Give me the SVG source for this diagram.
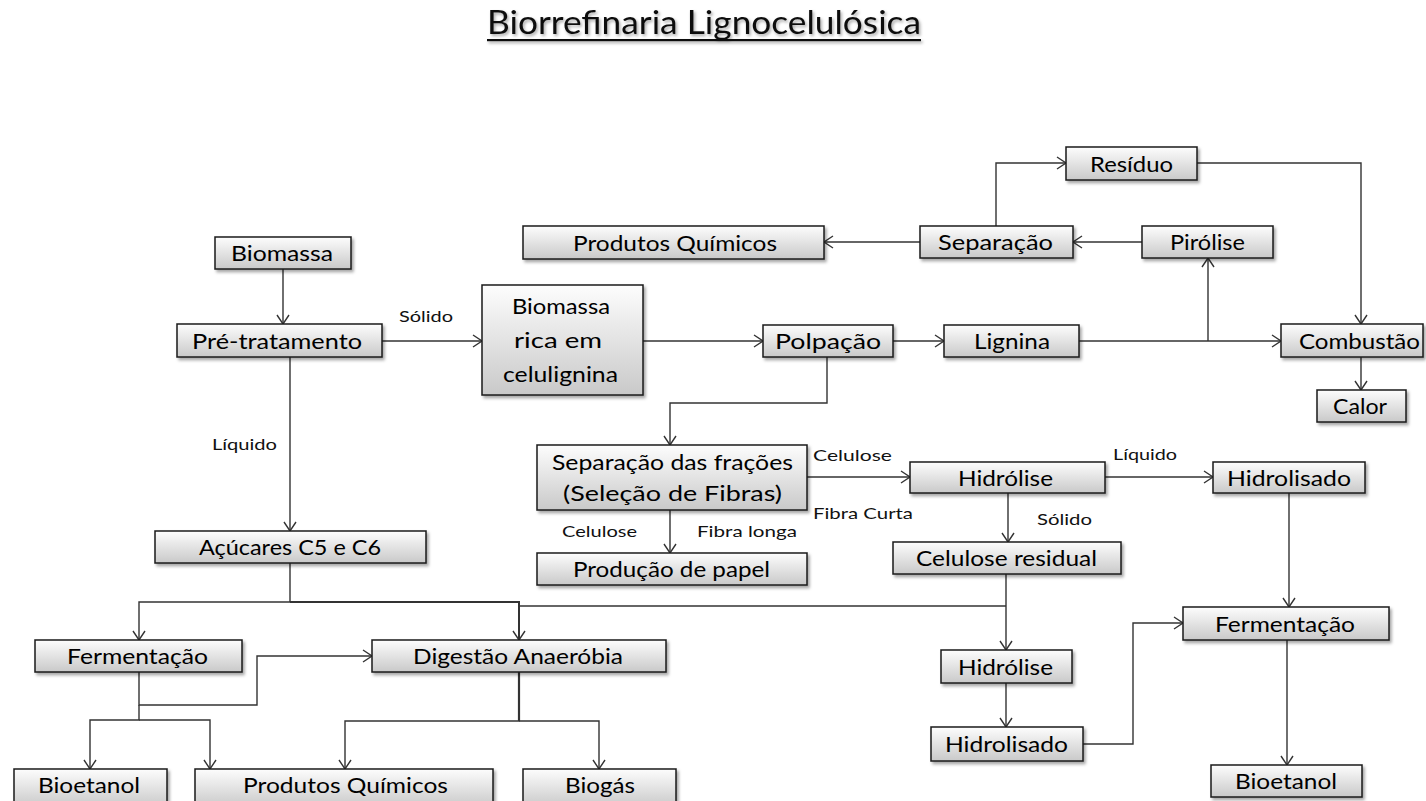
<svg xmlns="http://www.w3.org/2000/svg" width="1426" height="801" viewBox="0 0 1426 801">
<style>
.box{fill:url(#g);stroke:#1a1a1a;stroke-width:1.5;filter:url(#sh)}
.t{font-family:Lato,"Liberation Sans",sans-serif;font-size:22px;fill:#000;text-anchor:middle}
.l{font-family:Lato,"Liberation Sans",sans-serif;font-size:16px;fill:#111}
.c{fill:none;stroke:#333;stroke-width:1.4;marker-end:url(#a)}
.n{fill:none;stroke:#333;stroke-width:1.4}
.title{font-family:Lato,"Liberation Sans",sans-serif;font-size:32px;fill:#111;text-anchor:middle}
</style>
<defs>
<linearGradient id="g" x1="0" y1="0" x2="0" y2="1">
<stop offset="0" stop-color="#fdfdfd"/>
<stop offset="1" stop-color="#c9c9c9"/>
</linearGradient>
<filter id="sh" x="-10%" y="-30%" width="120%" height="170%">
<feDropShadow dx="2" dy="2.5" stdDeviation="1.5" flood-color="#000" flood-opacity="0.35"/>
</filter>
<filter id="tsh" x="-5%" y="-50%" width="110%" height="200%">
<feDropShadow dx="1.5" dy="2" stdDeviation="1.5" flood-color="#000" flood-opacity="0.35"/>
</filter>
<marker id="a" markerWidth="12" markerHeight="14" refX="10" refY="7" orient="auto" markerUnits="userSpaceOnUse">
<path d="M1,1 L10,7 L1,13" fill="none" stroke="#333" stroke-width="1.4"/>
</marker>
</defs>

<g id="title" filter="url(#tsh)">
<text class="title" x="704" y="34" textLength="434" lengthAdjust="spacingAndGlyphs">Biorrefinaria Lignocelulósica</text>
<rect x="487" y="39" width="434" height="2.2" fill="#111"/>
</g>

<g id="connectors">
<path class="c" d="M283,269 V324"/>
<path class="c" d="M382,341 H482"/>
<path class="c" d="M643,341 H763"/>
<path class="c" d="M893,341 H944"/>
<path class="c" d="M1079,341 H1281"/>
<path class="c" d="M1208,341 V258"/>
<path class="c" d="M1142,242 H1073"/>
<path class="c" d="M920,242 H824"/>
<path class="c" d="M996,226 V163 H1066"/>
<path class="c" d="M1197,163 H1361 V324"/>
<path class="c" d="M1361,357 V390"/>
<path class="c" d="M827,357 V403 H670 V445"/>
<path class="c" d="M807,477 H910"/>
<path class="c" d="M670,510 V553"/>
<path class="c" d="M1105,477 H1213"/>
<path class="c" d="M1008,493 V542"/>
<path class="c" d="M1289,493 V607"/>
<path class="c" d="M1006,574 V650"/>
<path class="n" d="M1006,606 H519"/>
<path class="c" d="M1006,683 V727"/>
<path class="c" d="M1083,744 H1133 V623 H1183"/>
<path class="c" d="M1287,640 V765"/>
<path class="c" d="M290,357 V531"/>
<path class="n" d="M290,563 V602"/>
<path class="c" d="M290,602 H139 V640"/>
<path class="c" d="M290,602 H519 V640" style="stroke-width:2"/>
<path class="c" d="M139,672 V705 H257 V656 H372"/>
<path class="c" d="M139,705 V720 H90 V769"/>
<path class="c" d="M139,720 H210 V769"/>
<path class="c" d="M519,672 V721 H345 V769"/>
<path class="n" d="M519,672 V721" style="stroke-width:2.2"/>
<path class="c" d="M519,721 H599 V769"/>
<text class="l" x="399" y="322" textLength="54" lengthAdjust="spacingAndGlyphs">Sólido</text>
<text class="l" x="212" y="450" textLength="65" lengthAdjust="spacingAndGlyphs">Líquido</text>
<text class="l" x="813" y="461" textLength="79" lengthAdjust="spacingAndGlyphs">Celulose</text>
<text class="l" x="813" y="519" textLength="100" lengthAdjust="spacingAndGlyphs">Fibra Curta</text>
<text class="l" x="562" y="537" textLength="75" lengthAdjust="spacingAndGlyphs">Celulose</text>
<text class="l" x="697" y="537" textLength="100" lengthAdjust="spacingAndGlyphs">Fibra longa</text>
<text class="l" x="1113" y="460" textLength="64" lengthAdjust="spacingAndGlyphs">Líquido</text>
<text class="l" x="1037" y="525" textLength="55" lengthAdjust="spacingAndGlyphs">Sólido</text>
</g>

<g id="n-biomassa"><rect class="box" x="215" y="237" width="136" height="32"/><text class="t" x="282" y="261" textLength="102" lengthAdjust="spacingAndGlyphs">Biomassa</text></g>
<g id="n-pretratamento"><rect class="box" x="177" y="324" width="205" height="33"/><text class="t" x="277" y="349" textLength="170" lengthAdjust="spacingAndGlyphs">Pré-tratamento</text></g>
<g id="n-biomassa-rica"><rect class="box" x="482" y="285" width="161" height="110"/><text class="t" x="561" y="314" textLength="98" lengthAdjust="spacingAndGlyphs">Biomassa</text><text class="t" x="558" y="348" textLength="88" lengthAdjust="spacingAndGlyphs">rica em</text><text class="t" x="560.5" y="382" textLength="115" lengthAdjust="spacingAndGlyphs">celulignina</text></g>
<g id="n-polpacao"><rect class="box" x="763" y="325" width="130" height="32"/><text class="t" x="828" y="349" textLength="106" lengthAdjust="spacingAndGlyphs">Polpação</text></g>
<g id="n-lignina"><rect class="box" x="944" y="325" width="135" height="32"/><text class="t" x="1012" y="349" textLength="76" lengthAdjust="spacingAndGlyphs">Lignina</text></g>
<g id="n-combustao"><rect class="box" x="1281" y="324" width="142" height="33"/><text class="t" x="1359.5" y="349" textLength="121" lengthAdjust="spacingAndGlyphs">Combustão</text></g>
<g id="n-calor"><rect class="box" x="1317" y="390" width="89" height="32"/><text class="t" x="1360" y="414" textLength="54" lengthAdjust="spacingAndGlyphs">Calor</text></g>
<g id="n-residuo"><rect class="box" x="1066" y="147" width="131" height="33"/><text class="t" x="1131.5" y="172" textLength="83" lengthAdjust="spacingAndGlyphs">Resíduo</text></g>
<g id="n-separacao"><rect class="box" x="920" y="226" width="153" height="32"/><text class="t" x="995.5" y="250" textLength="115" lengthAdjust="spacingAndGlyphs">Separação</text></g>
<g id="n-pirolise"><rect class="box" x="1142" y="226" width="131" height="32"/><text class="t" x="1207.5" y="250" textLength="75" lengthAdjust="spacingAndGlyphs">Pirólise</text></g>
<g id="n-produtos-quimicos-top"><rect class="box" x="523" y="226" width="301" height="33"/><text class="t" x="675" y="251" textLength="204" lengthAdjust="spacingAndGlyphs">Produtos Químicos</text></g>
<g id="n-separacao-fracoes"><rect class="box" x="537" y="445" width="270" height="65"/><text class="t" x="672.5" y="470" textLength="241" lengthAdjust="spacingAndGlyphs">Separação das frações</text><text class="t" x="672.5" y="501" textLength="219" lengthAdjust="spacingAndGlyphs">(Seleção de Fibras)</text></g>
<g id="n-producao-papel"><rect class="box" x="537" y="553" width="270" height="32"/><text class="t" x="671.5" y="577" textLength="197" lengthAdjust="spacingAndGlyphs">Produção de papel</text></g>
<g id="n-hidrolise1"><rect class="box" x="910" y="462" width="195" height="31"/><text class="t" x="1005.5" y="486" textLength="95" lengthAdjust="spacingAndGlyphs">Hidrólise</text></g>
<g id="n-hidrolisado1"><rect class="box" x="1213" y="462" width="152" height="31"/><text class="t" x="1289" y="486" textLength="124" lengthAdjust="spacingAndGlyphs">Hidrolisado</text></g>
<g id="n-celulose-residual"><rect class="box" x="893" y="542" width="228" height="32"/><text class="t" x="1006.5" y="566" textLength="181" lengthAdjust="spacingAndGlyphs">Celulose residual</text></g>
<g id="n-hidrolise2"><rect class="box" x="941" y="650" width="131" height="33"/><text class="t" x="1005.5" y="675" textLength="95" lengthAdjust="spacingAndGlyphs">Hidrólise</text></g>
<g id="n-hidrolisado2"><rect class="box" x="931" y="727" width="152" height="34"/><text class="t" x="1006.5" y="752" textLength="123" lengthAdjust="spacingAndGlyphs">Hidrolisado</text></g>
<g id="n-fermentacao-r"><rect class="box" x="1183" y="607" width="206" height="33"/><text class="t" x="1285" y="632" textLength="140" lengthAdjust="spacingAndGlyphs">Fermentação</text></g>
<g id="n-bioetanol-r"><rect class="box" x="1211" y="765" width="151" height="32"/><text class="t" x="1286" y="789" textLength="102" lengthAdjust="spacingAndGlyphs">Bioetanol</text></g>
<g id="n-acucares"><rect class="box" x="155" y="531" width="271" height="32"/><text class="t" x="290" y="555" textLength="182" lengthAdjust="spacingAndGlyphs">Açúcares C5 e C6</text></g>
<g id="n-fermentacao-l"><rect class="box" x="35" y="640" width="207" height="32"/><text class="t" x="137.5" y="664" textLength="141" lengthAdjust="spacingAndGlyphs">Fermentação</text></g>
<g id="n-digestao"><rect class="box" x="372" y="640" width="294" height="32"/><text class="t" x="518" y="664" textLength="210" lengthAdjust="spacingAndGlyphs">Digestão Anaeróbia</text></g>
<g id="n-bioetanol-l"><rect class="box" x="14" y="769" width="153" height="38"/><text class="t" x="89" y="793" textLength="102" lengthAdjust="spacingAndGlyphs">Bioetanol</text></g>
<g id="n-produtos-quimicos-bot"><rect class="box" x="195" y="769" width="298" height="38"/><text class="t" x="345.5" y="793" textLength="205" lengthAdjust="spacingAndGlyphs">Produtos Químicos</text></g>
<g id="n-biogas"><rect class="box" x="523" y="769" width="153" height="38"/><text class="t" x="600" y="793" textLength="70" lengthAdjust="spacingAndGlyphs">Biogás</text></g>
</svg>
